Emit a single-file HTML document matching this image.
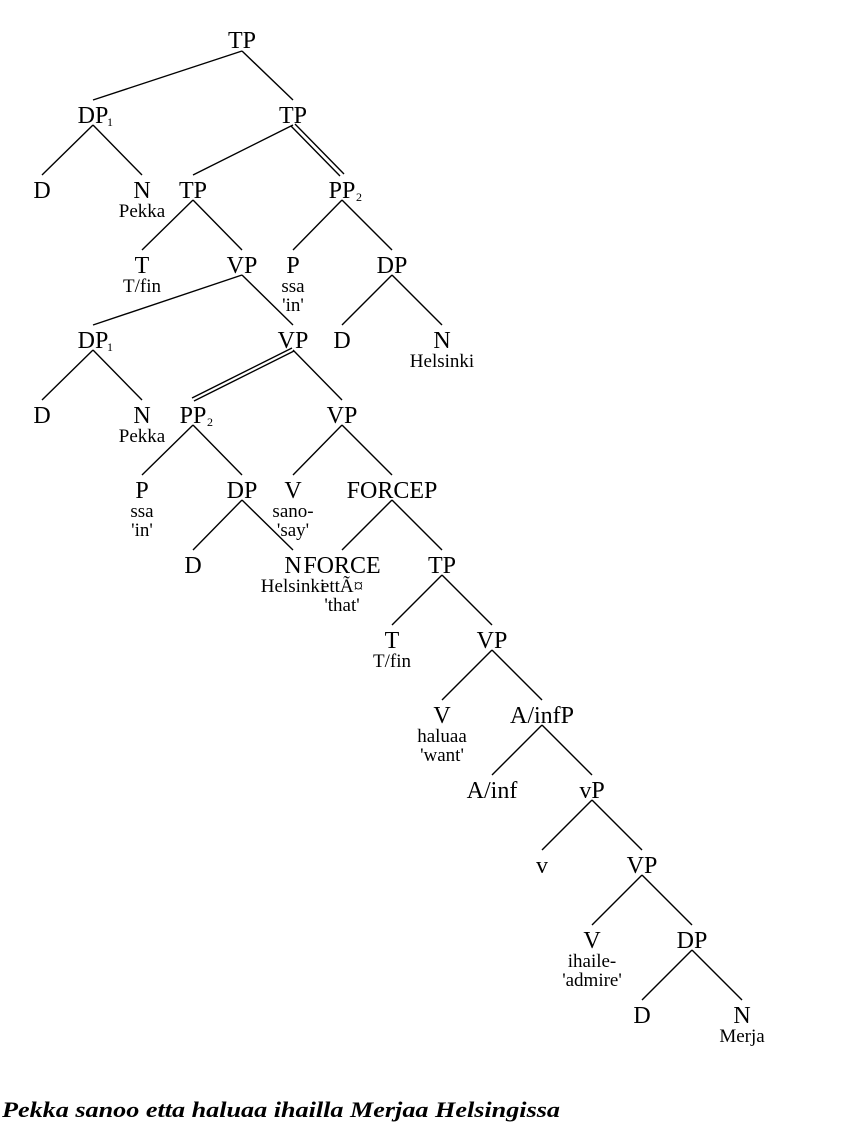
<!DOCTYPE html>
<html><head><meta charset="utf-8"><style>
html,body{margin:0;padding:0;background:#fff;}
svg{display:block;}
.n{font-family:"Liberation Serif",serif;font-size:24px;text-anchor:middle;fill:#000;}
.g{font-family:"Liberation Serif",serif;font-size:19px;text-anchor:middle;fill:#000;}
.s{font-family:"Liberation Serif",serif;font-size:12px;fill:#000;}
line{stroke:#000;stroke-width:1.4;}
</style></head><body>
<svg width="850" height="1125" viewBox="0 0 850 1125">
<g>
<line x1="242" y1="51" x2="93" y2="100"/><line x1="242" y1="51" x2="293" y2="100"/>
<line x1="93" y1="125" x2="42" y2="175"/><line x1="93" y1="125" x2="142" y2="175"/>
<line x1="293" y1="125" x2="193" y2="175"/>
<line x1="291" y1="126" x2="340" y2="176"/><line x1="295" y1="124" x2="344" y2="174"/>
<line x1="193" y1="200" x2="142" y2="250"/><line x1="193" y1="200" x2="242" y2="250"/>
<line x1="342" y1="200" x2="293" y2="250"/><line x1="342" y1="200" x2="392" y2="250"/>
<line x1="242" y1="275" x2="93" y2="325"/><line x1="242" y1="275" x2="293" y2="325"/>
<line x1="392" y1="275" x2="342" y2="325"/><line x1="392" y1="275" x2="442" y2="325"/>
<line x1="93" y1="350" x2="42" y2="400"/><line x1="93" y1="350" x2="142" y2="400"/>
<line x1="292" y1="348" x2="192" y2="398"/><line x1="294" y1="351" x2="194" y2="401"/>
<line x1="293" y1="350" x2="342" y2="400"/>
<line x1="193" y1="425" x2="142" y2="475"/><line x1="193" y1="425" x2="242" y2="475"/>
<line x1="342" y1="425" x2="293" y2="475"/><line x1="342" y1="425" x2="392" y2="475"/>
<line x1="242" y1="500" x2="193" y2="550"/><line x1="242" y1="500" x2="293" y2="550"/>
<line x1="392" y1="500" x2="342" y2="550"/><line x1="392" y1="500" x2="442" y2="550"/>
<line x1="442" y1="575" x2="392" y2="625"/><line x1="442" y1="575" x2="492" y2="625"/>
<line x1="492" y1="650" x2="442" y2="700"/><line x1="492" y1="650" x2="542" y2="700"/>
<line x1="542" y1="725" x2="492" y2="775"/><line x1="542" y1="725" x2="592" y2="775"/>
<line x1="592" y1="800" x2="542" y2="850"/><line x1="592" y1="800" x2="642" y2="850"/>
<line x1="642" y1="875" x2="592" y2="925"/><line x1="642" y1="875" x2="692" y2="925"/>
<line x1="692" y1="950" x2="642" y2="1000"/><line x1="692" y1="950" x2="742" y2="1000"/>
</g>
<text class="n" x="242" y="48">TP</text>
<text class="n" x="93" y="123">DP</text><text class="s" x="107" y="126">1</text>
<text class="n" x="293" y="123">TP</text>
<text class="n" x="42" y="198">D</text>
<text class="n" x="142" y="198">N</text><text class="g" x="142" y="217">Pekka</text>
<text class="n" x="193" y="198">TP</text>
<text class="n" x="342" y="198">PP</text><text class="s" x="356" y="201">2</text>
<text class="n" x="142" y="273">T</text><text class="g" x="142" y="292">T/fin</text>
<text class="n" x="242" y="273">VP</text>
<text class="n" x="293" y="273">P</text><text class="g" x="293" y="292">ssa</text><text class="g" x="293" y="311">'in'</text>
<text class="n" x="392" y="273">DP</text>
<text class="n" x="93" y="348">DP</text><text class="s" x="107" y="351">1</text>
<text class="n" x="293" y="348">VP</text>
<text class="n" x="342" y="348">D</text>
<text class="n" x="442" y="348">N</text><text class="g" x="442" y="367">Helsinki</text>
<text class="n" x="42" y="423">D</text>
<text class="n" x="142" y="423">N</text><text class="g" x="142" y="442">Pekka</text>
<text class="n" x="193" y="423">PP</text><text class="s" x="207" y="426">2</text>
<text class="n" x="342" y="423">VP</text>
<text class="n" x="142" y="498">P</text><text class="g" x="142" y="517">ssa</text><text class="g" x="142" y="536">'in'</text>
<text class="n" x="242" y="498">DP</text>
<text class="n" x="293" y="498">V</text><text class="g" x="293" y="517">sano-</text><text class="g" x="293" y="536">'say'</text>
<text class="n" x="392" y="498">FORCEP</text>
<text class="n" x="193" y="573">D</text>
<text class="n" x="293" y="573">N</text><text class="g" x="293" y="592">Helsinki</text>
<text class="n" x="342" y="573">FORCE</text><text class="g" x="342" y="592">ettÃ¤</text><text class="g" x="342" y="611">'that'</text>
<text class="n" x="442" y="573">TP</text>
<text class="n" x="392" y="648">T</text><text class="g" x="392" y="667">T/fin</text>
<text class="n" x="492" y="648">VP</text>
<text class="n" x="442" y="723">V</text><text class="g" x="442" y="742">haluaa</text><text class="g" x="442" y="761">'want'</text>
<text class="n" x="542" y="723">A/infP</text>
<text class="n" x="492" y="798">A/inf</text>
<text class="n" x="592" y="798">vP</text>
<text class="n" x="542" y="873">v</text>
<text class="n" x="642" y="873">VP</text>
<text class="n" x="592" y="948">V</text><text class="g" x="592" y="967">ihaile-</text><text class="g" x="592" y="986">'admire'</text>
<text class="n" x="692" y="948">DP</text>
<text class="n" x="642" y="1023">D</text>
<text class="n" x="742" y="1023">N</text><text class="g" x="742" y="1042">Merja</text>
<text x="2" y="1117" textLength="558" lengthAdjust="spacingAndGlyphs" style="font-family:'Liberation Serif',serif;font-style:italic;font-weight:bold;font-size:22px;">Pekka sanoo etta haluaa ihailla Merjaa Helsingissa</text>
</svg>
</body></html>
